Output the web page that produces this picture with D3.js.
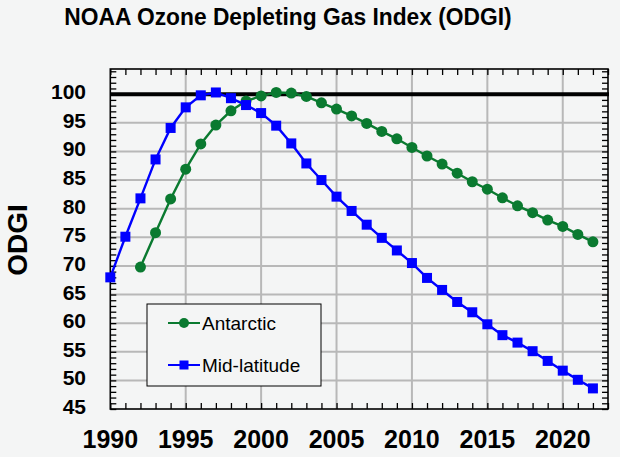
<!DOCTYPE html>
<html>
<head>
<meta charset="utf-8">
<script src="https://cdn.jsdelivr.net/npm/d3@7"></script>
<style>
  html, body { margin: 0; padding: 0; background: #f4f5f5; }
  svg { display: block; }
  text { font-family: "Liberation Sans", Arial, Helvetica, sans-serif; }
</style>
</head>
<body>
<svg id="chart" width="620" height="457"></svg>
<script>
const years = d3.range(1990, 2023);
const midLatYears = years;
const midLatitude = [68.0, 75.1, 81.8, 88.6, 94.1, 97.7, 99.8, 100.3, 99.3, 98.1,
  96.7, 94.5, 91.4, 87.9, 85.0, 82.1, 79.6, 77.2, 74.9, 72.7,
  70.5, 67.9, 65.8, 63.7, 61.9, 59.8, 57.9, 56.6, 55.1, 53.4,
  51.7, 50.1, 48.6];
const antarcticYears = d3.range(1992, 2023);
const antarctic = [69.8, 75.8, 81.7, 86.9, 91.3, 94.6, 97.1, 98.8, 99.7, 100.3,
  100.2, 99.6, 98.5, 97.4, 96.2, 94.9, 93.5, 92.2, 90.7, 89.2,
  87.8, 86.2, 84.7, 83.4, 81.9, 80.5, 79.3, 78.0, 76.9, 75.5, 74.2];
const xTickLabels = [1990, 1995, 2000, 2005, 2010, 2015, 2020];
const yTickLabels = [45, 50, 55, 60, 65, 70, 75, 80, 85, 90, 95, 100];
const seriesNames = ["Antarctic", "Mid-latitude"];
const referenceLevel = 100;
const titleText = "NOAA Ozone Depleting Gas Index (ODGI)";
const yLabelText = "ODGI";

const svg = d3.select("#chart");
const W = 620, H = 457;
const L = 110.3, R = 608, T = 69, B = 409;
const green = "#0a7a30", blue = "#0000ff";

svg.append("rect").attr("width", W).attr("height", H).attr("fill", "#f4f5f5");

const x = d3.scaleLinear().domain([1990, 2023]).range([L, R]);
const y = d3.scaleLinear().domain([45, 104.4]).range([B, T]);

// gridlines
const g = svg.append("g");
g.selectAll("line.vg").data(xTickLabels.filter(v => v > 1990))
  .join("line").attr("x1", d => x(d)).attr("x2", d => x(d))
  .attr("y1", T).attr("y2", B).attr("stroke", "#b8b8b8").attr("stroke-width", 2);
g.selectAll("line.hg").data(yTickLabels.filter(v => v > 45 && v < 100))
  .join("line").attr("x1", L).attr("x2", R)
  .attr("y1", d => y(d)).attr("y2", d => y(d)).attr("stroke", "#b8b8b8").attr("stroke-width", 2);

// minor ticks via axes (inward)
const yMinor = d3.range(45, 105, 1);
const xMinor = d3.range(1990, 2024, 1);
svg.append("g").attr("transform", `translate(${L},0)`)
  .call(d3.axisRight(y).tickValues(yMinor).tickSize(6).tickFormat(""))
  .call(a => a.select(".domain").remove())
  .selectAll("line").attr("stroke", "#000").attr("stroke-width", 1.3);
svg.append("g").attr("transform", `translate(${R},0)`)
  .call(d3.axisLeft(y).tickValues(yMinor).tickSize(6).tickFormat(""))
  .call(a => a.select(".domain").remove())
  .selectAll("line").attr("stroke", "#000").attr("stroke-width", 1.3);
svg.append("g").attr("transform", `translate(0,${B})`)
  .call(d3.axisTop(x).tickValues(xMinor).tickSize(6).tickFormat(""))
  .call(a => a.select(".domain").remove())
  .selectAll("line").attr("stroke", "#000").attr("stroke-width", 1.3);
svg.append("g").attr("transform", `translate(0,${T})`)
  .call(d3.axisBottom(x).tickValues(xMinor).tickSize(6).tickFormat(""))
  .call(a => a.select(".domain").remove())
  .selectAll("line").attr("stroke", "#000").attr("stroke-width", 1.3);

// reference line
svg.append("line").attr("x1", L).attr("x2", R + 1)
  .attr("y1", y(referenceLevel)).attr("y2", y(referenceLevel))
  .attr("stroke", "#000").attr("stroke-width", 4);

// frame
svg.append("rect").attr("x", L).attr("y", T).attr("width", R - L).attr("height", B - T)
  .attr("fill", "none").attr("stroke", "#000").attr("stroke-width", 1.6);

// tick labels
svg.append("g").selectAll("text").data(yTickLabels).join("text")
  .attr("x", 86).attr("y", d => y(d) + 5).attr("text-anchor", "end")
  .attr("font-size", 21).attr("font-weight", "bold").attr("fill", "#000").text(d => d);
svg.append("g").selectAll("text").data(xTickLabels).join("text")
  .attr("x", d => x(d)).attr("y", 448).attr("text-anchor", "middle")
  .attr("font-size", 25).attr("font-weight", "bold").attr("fill", "#000").text(d => d);

// title & y label
svg.append("text").attr("transform", "translate(288,25) scale(0.95,1)").attr("text-anchor", "middle")
  .attr("font-size", 24).attr("font-weight", "bold").attr("fill", "#000").text(titleText);
svg.append("text").attr("transform", "translate(27,240) rotate(-90)")
  .attr("text-anchor", "middle").attr("font-size", 28).attr("font-weight", "bold")
  .attr("fill", "#000").text(yLabelText);

// series
const line = d3.line().x(d => x(d[0])).y(d => y(d[1]));
const midData = midLatYears.map((yr, i) => [yr, midLatitude[i]]);
const antData = antarcticYears.map((yr, i) => [yr, antarctic[i]]);

svg.append("path").datum(antData).attr("d", line).attr("fill", "none")
  .attr("stroke", green).attr("stroke-width", 2.4);
svg.append("g").selectAll("circle").data(antData).join("circle")
  .attr("cx", d => x(d[0])).attr("cy", d => y(d[1])).attr("r", 5.5).attr("fill", green);

svg.append("path").datum(midData).attr("d", line).attr("fill", "none")
  .attr("stroke", blue).attr("stroke-width", 2.4);
svg.append("g").selectAll("rect").data(midData).join("rect")
  .attr("x", d => x(d[0]) - 5).attr("y", d => y(d[1]) - 5)
  .attr("width", 10).attr("height", 10).attr("fill", blue);

// legend
const lg = svg.append("g");
lg.append("rect").attr("x", 147).attr("y", 304).attr("width", 174).attr("height", 82)
  .attr("fill", "#f4f5f5").attr("stroke", "#000").attr("stroke-width", 1);
const entries = [{name: seriesNames[0], color: green, shape: "circle", yy: 323},
                 {name: seriesNames[1], color: blue, shape: "square", yy: 365}];
entries.forEach(e => {
  lg.append("line").attr("x1", 168).attr("x2", 200).attr("y1", e.yy).attr("y2", e.yy)
    .attr("stroke", e.color).attr("stroke-width", 2);
  if (e.shape === "circle") {
    lg.append("circle").attr("cx", 184).attr("cy", e.yy).attr("r", 5).attr("fill", e.color);
  } else {
    lg.append("rect").attr("x", 179.5).attr("y", e.yy - 4.5).attr("width", 9).attr("height", 9).attr("fill", e.color);
  }
  lg.append("text").attr("x", 202).attr("y", e.yy + 7).attr("font-size", 19)
    .attr("fill", "#000").text(e.name);
});
</script>
</body>
</html>
